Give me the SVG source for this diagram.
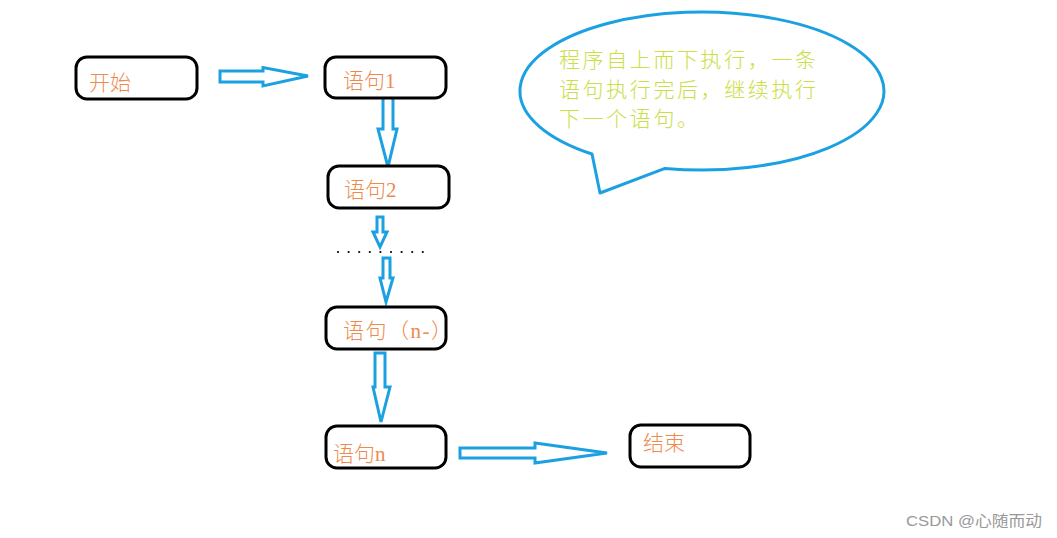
<svg xmlns="http://www.w3.org/2000/svg" width="1057" height="538" viewBox="0 0 1057 538">
<style>
.box{fill:#fff;stroke:#000;stroke-width:3}
.lbl{font-family:"Liberation Serif","Noto Sans CJK SC",serif;font-size:21px;fill:#EE8A4E;font-weight:300}
.arr{fill:#fff;stroke:#1BA1E2;stroke-width:3;stroke-linejoin:miter}
.note{font-family:"Noto Sans CJK SC",sans-serif;font-size:21px;fill:#CADE46;letter-spacing:2.6px;font-weight:300}
.dot{fill:#000}
</style>
<rect width="1057" height="538" fill="#fff"/>
<g id="connectors">
<polygon class="arr" points="220,71 263,71 263,67.5 308,76 263,86 263,82 220,82"/>
<polygon class="arr" points="383,92 393,92 393,129 397,129 388,167 378,129 383,129"/>
<polygon class="arr" points="377,217 383,217 383,232 387,232 380,247 373,232 377,232"/>
<polygon class="arr" points="383,258 390,258 390,278 393,278 386,302 380,278 383,278"/>
<polygon class="arr" points="375,353 385,353 385,387 390,387 381,422 373,387 375,387"/>
<polygon class="arr" points="460,448 535,448 535,443 607,453 535,463 535,458 460,458"/>
<g id="dots">
<circle class="dot" cx="338" cy="252" r="1.1"/><circle class="dot" cx="348.6" cy="252" r="1.1"/><circle class="dot" cx="359.2" cy="252" r="1.1"/><circle class="dot" cx="369.8" cy="252" r="1.1"/><circle class="dot" cx="380.4" cy="252" r="1.1"/><circle class="dot" cx="391" cy="252" r="1.1"/><circle class="dot" cx="401.6" cy="252" r="1.1"/><circle class="dot" cx="412.2" cy="252" r="1.1"/><circle class="dot" cx="422.8" cy="252" r="1.1"/>
</g>
</g>
<g id="start"><rect class="box" x="76" y="57" width="121" height="42" rx="11"/><text class="lbl" x="89" y="90">开始</text></g>
<g id="s1"><rect class="box" x="325" y="57" width="121" height="41" rx="11"/><text class="lbl" x="343" y="88">语句1</text></g>
<g id="s2"><rect class="box" x="328" y="166" width="121" height="42" rx="11"/><text class="lbl" x="344" y="197">语句2</text></g>
<g id="sn1"><rect class="box" x="326" y="307" width="120" height="42" rx="11"/><text class="lbl" x="343" y="338" letter-spacing="1.5">语句（n-）</text></g>
<g id="sn"><rect class="box" x="326" y="426" width="120" height="42" rx="11"/><text class="lbl" x="333" y="461">语句n</text></g>
<g id="end"><rect class="box" x="630" y="425" width="120" height="42" rx="11"/><text class="lbl" x="643" y="450">结束</text></g>
<g id="callout">
<path d="M592,154 A182,79 0 1 1 665,168.4 L600,193 Z" fill="#fff" stroke="#1BA1E2" stroke-width="3" stroke-linejoin="round"/>
<text class="note" x="559" y="67">程序自上而下执行，一条</text>
<text class="note" x="559" y="97">语句执行完后，继续执行</text>
<text class="note" x="559" y="126">下一个语句。</text>
</g>
<text x="906" y="526" font-family="'Liberation Sans','Noto Sans CJK SC',sans-serif" font-size="15" fill="#999" textLength="136" lengthAdjust="spacingAndGlyphs">CSDN @心随而动</text>
</svg>
